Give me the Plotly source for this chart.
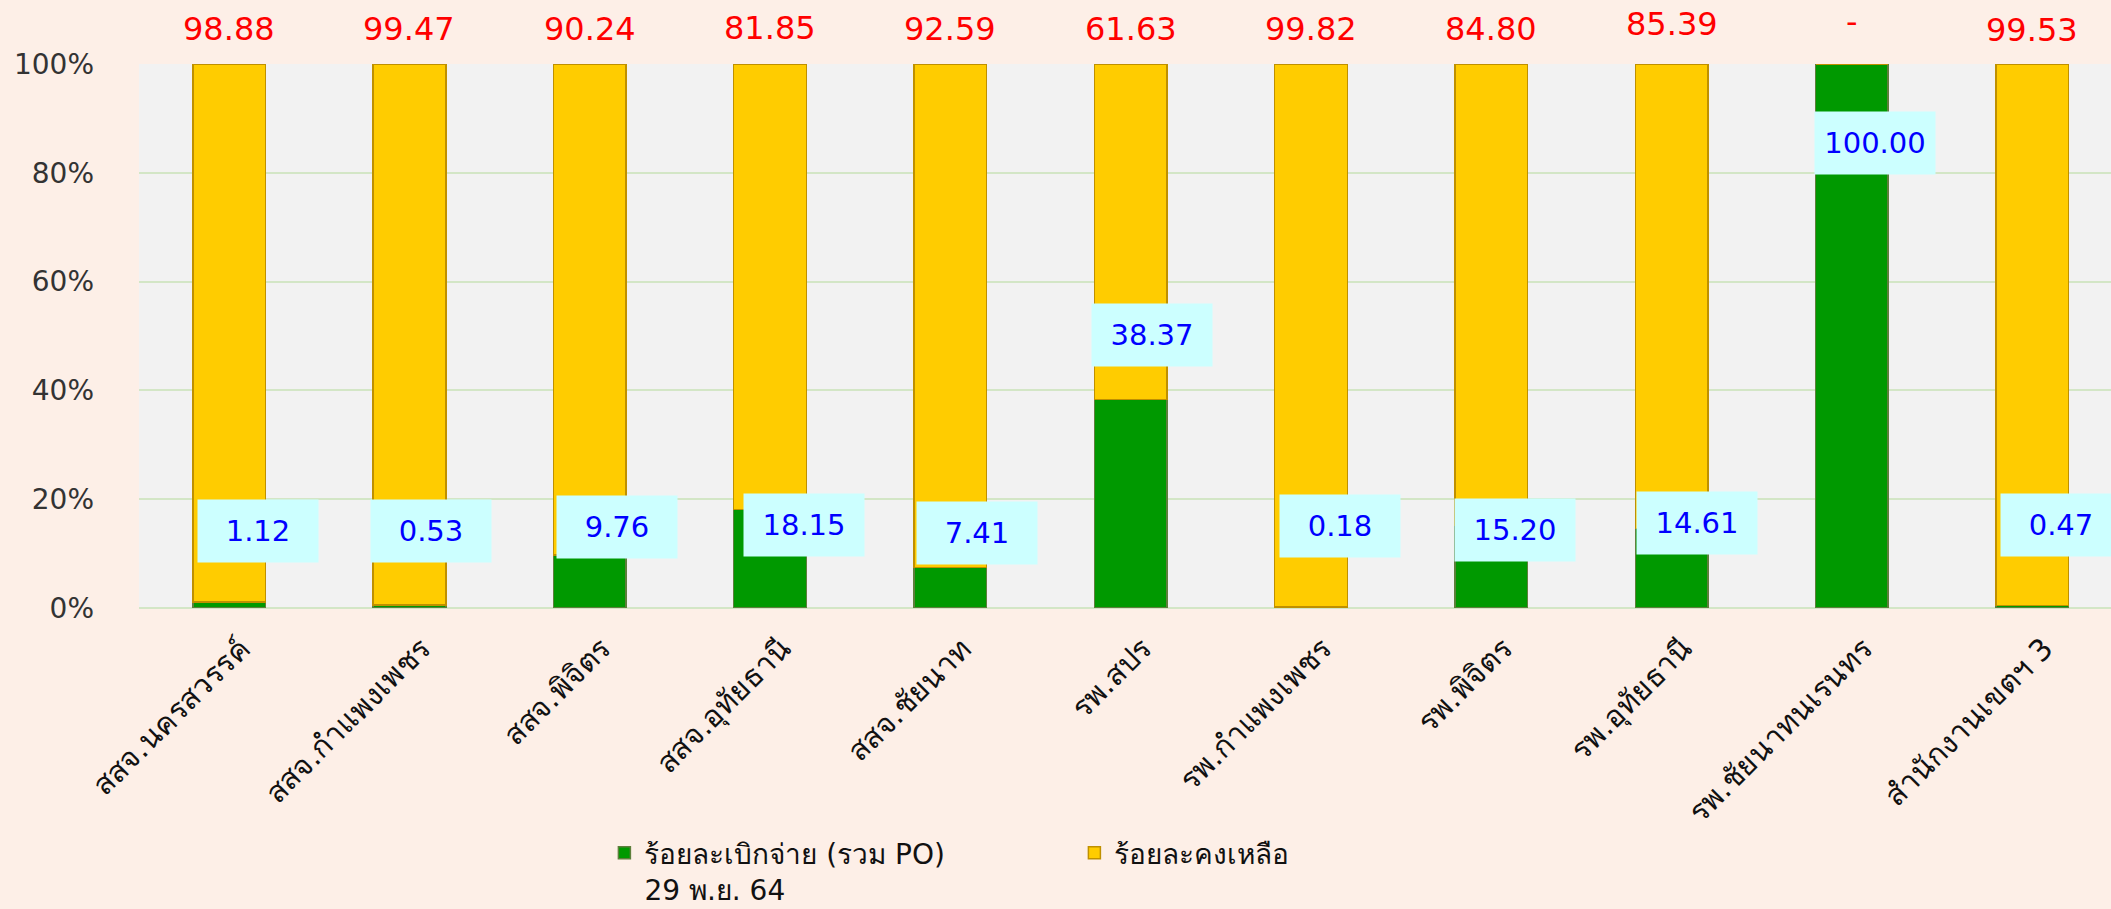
import plotly.graph_objects as go

categories = ["สสจ.นครสวรรค์", "สสจ.กำแพงเพชร", "สสจ.พิจิตร", "สสจ.อุทัยธานี", "สสจ.ชัยนาท",
              "รพ.สปร", "รพ.กำแพงเพชร", "รพ.พิจิตร", "รพ.อุทัยธานี", "รพ.ชัยนาทนเรนทร", "สำนักงานเขตฯ 3"]
disbursed = [1.12, 0.53, 9.76, 18.15, 7.41, 38.37, 0.18, 15.20, 14.61, 100.00, 0.47]
remaining = [98.88, 99.47, 90.24, 81.85, 92.59, 61.63, 99.82, 84.80, 85.39, 0.00, 99.53]
series_names = ["ร้อยละเบิกจ่าย (รวม PO)<br>29 พ.ย. 64", "ร้อยละคงเหลือ"]
y_ticks = [0, 20, 40, 60, 80, 100]

# label placement (style, not data)
blue_label_y = [14.1, 14.1, 14.8, 15.3, 13.8, 50.1, 15.1, 14.3, 15.6, 85.4, 15.3]
blue_label_dx = [0.16, 0.12, 0.15, 0.19, 0.15, 0.12, 0.16, 0.13, 0.14, 0.13, 0.16]
red_label_y = [1.065, 1.065, 1.065, 1.067, 1.065, 1.065, 1.065, 1.065, 1.074, 1.078, 1.063]

FONT = "DejaVu Sans"
GREEN = "#009900"
YELLOW = "#FFCC00"

x_idx = list(range(len(categories)))

fig = go.Figure()
fig.add_trace(go.Bar(x=x_idx, y=disbursed, name=series_names[0],
                     marker=dict(color=GREEN, line=dict(color="#5E7F3C", width=1.5)),
                     width=0.403))
fig.add_trace(go.Bar(x=x_idx, y=remaining, name=series_names[1],
                     marker=dict(color=YELLOW, line=dict(color="#BF9000", width=1.5)),
                     width=0.403))

annotations = []
for i, v in enumerate(disbursed):
    annotations.append(dict(x=i + blue_label_dx[i], y=blue_label_y[i], xref="x", yref="y",
                            text=f"{v:.2f}", showarrow=False,
                            font=dict(family=FONT, size=29, color="#0000FF"),
                            bgcolor="#CCFFFF", width=118, height=60, align="center",
                            valign="middle"))
for i, v in enumerate(remaining):
    txt = f"{v:.2f}" if v > 0 else "-"
    annotations.append(dict(x=i, y=red_label_y[i], xref="x", yref="paper",
                            xanchor="center", yanchor="middle",
                            text=txt, showarrow=False,
                            font=dict(family=FONT, size=32, color="#FF0000")))

fig.update_layout(
    barmode="stack",
    width=2111, height=909,
    margin=dict(l=139, r=0, t=63.5, b=300.5, pad=0, autoexpand=False),
    paper_bgcolor="#FDEFE7",
    plot_bgcolor="#F2F2F2",
    font=dict(family=FONT, size=26, color="#222222"),
    showlegend=True,
    legend=dict(orientation="h", x=0.236, xanchor="left",
                y=0.089, yref="container", yanchor="top",
                font=dict(family=FONT, size=28, color="#111111"),
                bgcolor="rgba(0,0,0,0)", valign="top",
                entrywidth=425, entrywidthmode="pixels",
                traceorder="normal"),
    annotations=annotations,
)
fig.update_xaxes(tickmode="array", tickvals=x_idx, ticktext=categories,
                 range=[-0.5, 10.437], tickangle=-45, showgrid=False, automargin=False,
                 showline=False, ticks="", ticklabelstandoff=16, ticklabelshift=12,
                 tickfont=dict(family=FONT, size=30, color="#111111"))
fig.update_yaxes(range=[0, 100], tickmode="array", tickvals=y_ticks,
                 ticktext=[f"{v}%" for v in y_ticks], automargin=False,
                 showgrid=True, gridcolor="#D3E6C6", gridwidth=2,
                 zeroline=True, zerolinecolor="#D3E6C6", zerolinewidth=2,
                 ticks="", ticklabelstandoff=44,
                 tickfont=dict(family=FONT, size=28, color="#333333"))

fig.write_html("out.html", config={"displayModeBar": False},
               post_script="document.body.style.margin='0';")
